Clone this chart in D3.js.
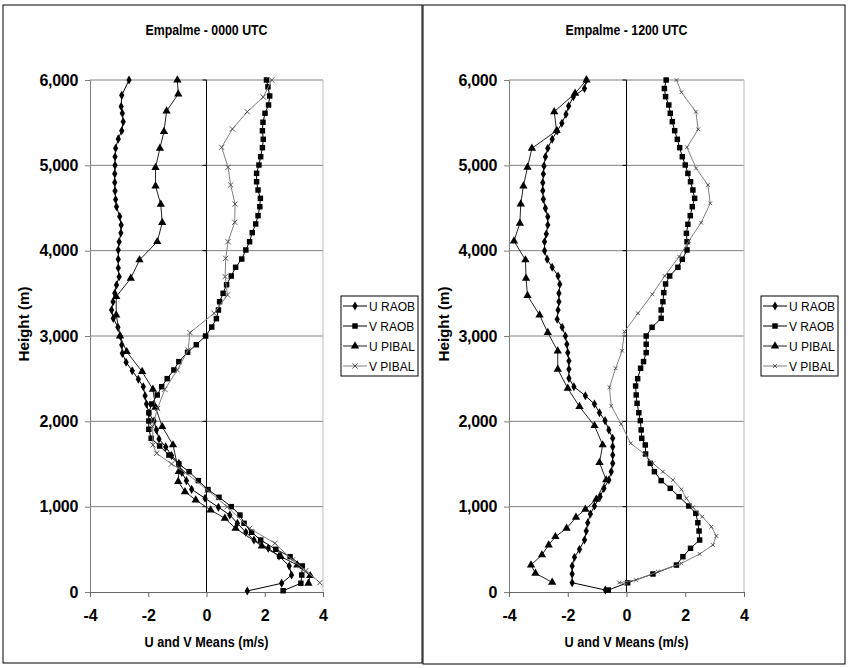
<!DOCTYPE html>
<html>
<head>
<meta charset="utf-8">
<script src="https://cdn.jsdelivr.net/npm/d3@7"></script>
<style>
body{margin:0;background:#fff}
text{font-family:"Liberation Sans",Arial,sans-serif}
</style>
</head>
<body>
<svg id="chart" width="850" height="668"></svg>
<script>
// ---- data: heights (m) and mean wind components (m/s) ----
var heightTicks = [0,1000,2000,3000,4000,5000,6000]
var speedTicks = [-4,-2,0,2,4]
var seriesNames = ["U RAOB","V RAOB","U PIBAL","V PIBAL"]
var panelTitles = ["Empalme - 0000 UTC","Empalme - 1200 UTC"]

// 0000 UTC
var h00_uRaob = [6000,5820,5690,5610,5510,5405,5310,5200,5100,5000,4900,4800,4700,4600,4515,4400,4300,4207,4105,4008,3900,3797,3695,3598,3500,3402,3305,3207,3102,3000,2895,2797,2692,2593,2493,2406,2300,2203,2094,2004,1899,1793,1700,1600,1508,1400,1305,1203,1098,993,902,805,700,609,512,422,305,199,102,12]
var u00_uRaob = [-2.66,-2.91,-2.93,-2.89,-2.86,-2.91,-3.03,-3.12,-3.14,-3.14,-3.15,-3.15,-3.14,-3.12,-3.09,-2.98,-2.93,-2.94,-3.0,-3.03,-3.03,-3.03,-3.0,-3.09,-3.15,-3.21,-3.26,-3.2,-3.04,-2.96,-2.91,-2.89,-2.76,-2.55,-2.34,-2.17,-2.11,-2.06,-1.98,-1.80,-1.72,-1.63,-1.40,-1.20,-0.95,-0.85,-0.69,-0.51,-0.05,0.41,0.80,1.06,1.35,1.63,2.12,2.49,2.84,2.92,2.58,1.40]
var h00_vRaob = [6000,5920,5813,5707,5610,5505,5405,5305,5207,5101,5004,4906,4808,4711,4613,4515,4410,4313,4211,4105,4008,3902,3805,3703,3601,3500,3402,3305,3203,3105,3000,2898,2809,2699,2602,2500,2406,2309,2203,2101,2004,1907,1801,1711,1605,1500,1410,1305,1200,1110,1000,902,805,700,609,500,414,305,199,102,15]
var v00_vRaob = [2.06,2.11,2.17,2.13,2.01,1.94,1.92,1.95,1.92,1.86,1.80,1.72,1.72,1.77,1.85,1.83,1.77,1.69,1.57,1.48,1.35,1.21,1.0,0.85,0.69,0.57,0.45,0.41,0.34,0.18,-0.03,-0.35,-0.65,-0.95,-1.12,-1.35,-1.54,-1.69,-1.88,-1.98,-1.98,-1.98,-1.90,-1.61,-1.29,-0.95,-0.60,-0.28,0.05,0.43,0.85,1.15,1.29,1.55,1.86,2.38,2.87,3.29,3.27,3.24,2.63]
var h00_uPibal = [6000,5836,5637,5395,5200,4973,4758,4543,4328,4105,3891,3676,3461,3246,3000,2816,2582,2375,2164,1937,1723,1410,1293,1175,1078,961,864,746,539,414,316,191,102]
var u00_uPibal = [-1.0,-0.97,-1.37,-1.46,-1.60,-1.75,-1.75,-1.57,-1.52,-1.69,-2.30,-2.60,-3.10,-3.10,-2.97,-2.74,-2.21,-1.84,-1.75,-1.52,-1.15,-0.95,-0.97,-0.74,-0.37,0.14,0.63,1.00,1.90,2.55,3.12,3.56,3.50]
var h00_vPibal = [6000,5800,5628,5426,5211,4977,4770,4547,4333,4105,3910,3695,3481,3266,3039,2836,2602,2375,2150,1940,1723,1625,1500,1399,1195,1000,746,571,375,250,109]
var v00_vPibal = [2.24,1.95,1.40,0.89,0.52,0.74,0.83,0.98,0.97,0.74,0.66,0.64,0.72,0.26,-0.57,-0.63,-1.00,-1.43,-1.68,-1.85,-1.84,-1.71,-1.20,-0.72,0.03,0.71,1.48,2.35,2.95,3.41,3.89]

// 1200 UTC
var h12_uRaob = [6000,5900,5805,5695,5598,5493,5403,5305,5200,5101,4992,4898,4797,4703,4602,4496,4398,4301,4195,4105,4000,3899,3805,3703,3606,3500,3402,3305,3196,3102,3000,2903,2805,2707,2610,2504,2406,2300,2203,2101,2008,1899,1801,1703,1605,1508,1410,1313,1215,1117,1008,914,812,715,609,500,407,305,211,109,23]
var u12_uRaob = [-1.37,-1.43,-1.81,-1.97,-2.06,-2.20,-2.36,-2.53,-2.68,-2.76,-2.81,-2.83,-2.85,-2.85,-2.83,-2.76,-2.68,-2.68,-2.73,-2.79,-2.79,-2.70,-2.53,-2.33,-2.27,-2.30,-2.30,-2.33,-2.36,-2.19,-2.08,-2.03,-2.0,-1.96,-1.96,-1.96,-1.79,-1.40,-1.09,-0.92,-0.73,-0.60,-0.47,-0.47,-0.47,-0.47,-0.52,-0.60,-0.77,-0.90,-1.09,-1.23,-1.32,-1.37,-1.43,-1.60,-1.77,-1.85,-1.85,-1.85,-0.72]
var h12_vRaob = [6000,5900,5805,5707,5610,5512,5406,5305,5207,5101,5004,4906,4808,4711,4613,4515,4410,4309,4203,4105,4008,3899,3805,3703,3610,3508,3402,3305,3207,3102,3000,2903,2805,2700,2622,2500,2414,2309,2211,2101,2008,1899,1801,1723,1617,1508,1410,1305,1215,1117,1008,922,812,715,609,512,414,316,211,109,23]
var v12_vRaob = [1.35,1.29,1.33,1.44,1.49,1.56,1.64,1.73,1.81,1.90,2.0,2.09,2.18,2.26,2.32,2.24,2.17,2.09,2.04,2.06,2.06,1.90,1.75,1.47,1.33,1.27,1.24,1.18,1.18,0.87,0.67,0.67,0.67,0.58,0.48,0.38,0.31,0.33,0.36,0.42,0.47,0.50,0.52,0.64,0.65,0.81,0.95,1.18,1.49,1.79,2.12,2.36,2.43,2.47,2.49,2.18,1.92,1.70,0.90,0.04,-0.62]
var h12_uPibal = [6000,5844,5628,5406,5200,4977,4758,4547,4321,4113,3891,3676,3473,3246,3039,2824,2610,2387,2172,1949,1723,1516,1313,1086,969,875,746,648,551,434,316,219,113]
var u12_uPibal = [-1.36,-1.75,-2.46,-2.38,-3.22,-3.37,-3.51,-3.60,-3.63,-3.83,-3.44,-3.42,-3.37,-2.96,-2.68,-2.34,-2.34,-2.0,-1.60,-1.09,-0.81,-0.92,-0.69,-1.03,-1.40,-1.72,-2.04,-2.42,-2.65,-2.88,-3.25,-3.10,-2.53]
var h12_vPibal = [6000,5856,5628,5422,5211,4965,4770,4555,4328,4113,3930,3703,3489,3266,3051,2828,2622,2399,2180,1969,1743,1617,1508,1410,1313,1203,1098,993,883,765,656,551,445,336,238,141,110,95]
var v12_vPibal = [1.70,1.87,2.36,2.44,2.06,2.37,2.77,2.85,2.54,2.12,1.79,1.30,0.88,0.39,-0.07,-0.15,-0.37,-0.58,-0.52,-0.18,0.14,0.61,0.90,1.24,1.58,1.87,2.04,2.26,2.58,2.89,3.06,2.94,2.49,1.87,1.07,0.33,-0.25,0.0]

var svg = d3.select("#chart")

// marker paths
function markerPath(kind, s){
    if(kind=="diamond") return d3.symbol().type(d3.symbolDiamond).size(24*s)()
    if(kind=="square") return d3.symbol().type(d3.symbolSquare).size(30*s)()
    if(kind=="triangle") return d3.symbol().type(d3.symbolTriangle).size(30*s)()
    var r = 2.6*Math.sqrt(s)
    return "M"+(-r)+","+(-r)+"L"+r+","+r+"M"+(-r)+","+r+"L"+r+","+(-r)
}

var seriesStyle = [
    {marker:"diamond", line:"#000", fill:"#000"},
    {marker:"square", line:"#000", fill:"#000"},
    {marker:"triangle", line:"#222", fill:"#000"},
    {marker:"x", line:"#808080", fill:"none"}
]

function drawPanel(g, title, series, xsScale){
    var x = d3.scaleLinear().domain([-4,4]).range([g.x0, g.x1])
    var y = d3.scaleLinear().domain([0,6000]).range([592,80])
    var p = svg.append("g")

    // frame
    p.append("rect").attr("x",g.fx).attr("y",5).attr("width",g.fw).attr("height",g.fh)
        .attr("fill","none").attr("stroke","#000").attr("stroke-width",1)

    // grid
    p.selectAll(".grid").data(heightTicks.slice(1)).enter().append("line")
        .attr("x1",x(-4)).attr("x2",x(4))
        .attr("y1",function(d){return y(d)}).attr("y2",function(d){return y(d)})
        .attr("stroke","#808080").attr("stroke-width",1)
    p.append("line").attr("x1",x(4)).attr("x2",x(4)).attr("y1",y(0)).attr("y2",y(6000))
        .attr("stroke","#bbb")

    // y axis (labels on the left)
    var yAxis = d3.axisLeft(y).tickValues(heightTicks).tickFormat(d3.format(",")).tickSize(5).tickPadding(7)
    var ya = p.append("g").attr("transform","translate("+x(-4)+",0)").call(yAxis)
    ya.select(".domain").attr("stroke","#808080")
    ya.selectAll(".tick line").attr("stroke","#808080")
    ya.selectAll("text").attr("font-size","16px").attr("font-weight","bold").attr("fill","#000")
        .attr("font-family","Liberation Sans, Arial, sans-serif").style("letter-spacing","-0.3px")

    // x axis
    var xAxis = d3.axisBottom(x).tickValues(speedTicks).tickSize(5).tickPadding(13)
        .tickFormat(function(d){return String(d)})
    var xa = p.append("g").attr("transform","translate(0,"+y(0)+")").call(xAxis)
    xa.select(".domain").attr("stroke","#666")
    xa.selectAll(".tick line").attr("stroke","#666")
    xa.selectAll("text").attr("font-size","16px").attr("font-weight","bold").attr("fill","#000")
        .attr("font-family","Liberation Sans, Arial, sans-serif")

    // zero line with small ticks
    p.append("line").attr("x1",x(0)).attr("x2",x(0)).attr("y1",y(0)).attr("y2",y(6000))
        .attr("stroke","#000")
    p.selectAll(".ztick").data(heightTicks.slice(1)).enter().append("line")
        .attr("x1",x(0)-4).attr("x2",x(0))
        .attr("y1",function(d){return y(d)}).attr("y2",function(d){return y(d)})
        .attr("stroke","#000")

    // series
    var line = d3.line().x(function(d){return x(d.v)}).y(function(d){return y(d.h)})
    series.forEach(function(s,i){
        var st = seriesStyle[i]
        var pts = s.h.map(function(h,j){return {h:h, v:s.v[j]}})
        p.append("path").datum(pts).attr("d",line).attr("fill","none")
            .attr("stroke",st.line).attr("stroke-width",1)
        var mpath = markerPath(st.marker, (i==3 ? xsScale : 1))
        p.selectAll(".m"+i).data(pts).enter().append("path")
            .attr("d",mpath)
            .attr("transform",function(d){return "translate("+x(d.v)+","+y(d.h)+")"})
            .attr("fill",st.fill)
            .attr("stroke",st.marker=="x" ? "#444" : "none")
            .attr("stroke-width",0.9)
    })

    // titles
    p.append("text").text(title).attr("x",(g.x0+g.x1)/2).attr("y",35)
        .attr("text-anchor","middle").attr("font-weight","bold").attr("font-size","14px")
        .attr("textLength",122).attr("lengthAdjust","spacingAndGlyphs")
    p.append("text").text("U and V Means (m/s)").attr("x",(g.x0+g.x1)/2).attr("y",647)
        .attr("text-anchor","middle").attr("font-weight","bold").attr("font-size","14.5px")
        .attr("textLength",124).attr("lengthAdjust","spacingAndGlyphs")
    p.append("text").text("Height (m)")
        .attr("transform","translate("+(g.fx+26)+",324) rotate(-90)")
        .attr("text-anchor","middle").attr("font-weight","bold").attr("font-size","14px")
        .attr("textLength",75).attr("lengthAdjust","spacingAndGlyphs")

    // legend
    var lg = p.append("g").attr("transform","translate("+g.lx+",296)")
    lg.append("rect").attr("x",0).attr("y",0).attr("width",77).attr("height",80)
        .attr("fill","#fff").attr("stroke","#000")
    seriesNames.forEach(function(name,i){
        var st = seriesStyle[i]
        var ly = 10+i*20
        lg.append("line").attr("x1",2).attr("x2",26).attr("y1",ly).attr("y2",ly)
            .attr("stroke",st.line)
        lg.append("path").attr("d",markerPath(st.marker,(i==3 ? xsScale : 1)))
            .attr("transform","translate(14,"+ly+")")
            .attr("fill",st.fill).attr("stroke",st.marker=="x" ? "#444" : "none").attr("stroke-width",0.9)
        lg.append("text").text(name).attr("x",28).attr("y",ly+4.5).attr("font-size","12px")
    })
}

drawPanel({x0:90, x1:323, fx:3, fw:419, fh:658, lx:341},
    panelTitles[0],
    [{h:h00_uRaob,v:u00_uRaob},{h:h00_vRaob,v:v00_vRaob},{h:h00_uPibal,v:u00_uPibal},{h:h00_vPibal,v:v00_vPibal}], 1)
drawPanel({x0:509, x1:744, fx:423, fw:422, fh:659, lx:761},
    panelTitles[1],
    [{h:h12_uRaob,v:u12_uRaob},{h:h12_vRaob,v:v12_vRaob},{h:h12_uPibal,v:u12_uPibal},{h:h12_vPibal,v:v12_vPibal}], 0.5)
</script>
</body>
</html>
